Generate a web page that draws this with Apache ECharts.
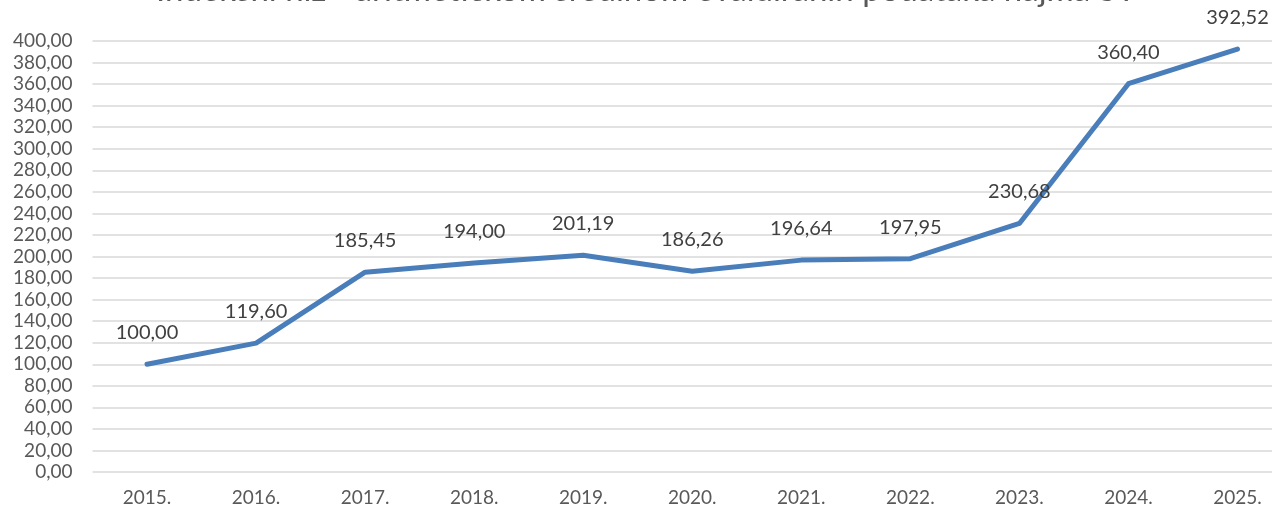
<!DOCTYPE html>
<html>
<head>
<meta charset="utf-8">
<script src="https://cdn.jsdelivr.net/npm/echarts@6/dist/echarts.min.js"></script>
<style>
  html, body { margin: 0; padding: 0; background: #fff; overflow: hidden; }
  /* the drawing is wider than the window; its right margin falls off-screen */
  #chart { width: 1292px; height: 511px; }
</style>
</head>
<body>
<div id="chart"></div>
<script>
// Years on the category axis
const years = ['2015.', '2016.', '2017.', '2018.', '2019.', '2020.', '2021.', '2022.', '2023.', '2024.', '2025.'];
// Index values per year
const indexValues = [100.00, 119.60, 185.45, 194.00, 201.19, 186.26, 196.64, 197.95, 230.68, 360.40, 392.52];
// Value axis range
const yMin = 0;
const yMax = 400;
const yStep = 20;

const chartTitle = 'Indeksni niz - aritmetičkom sredinom evaluiranih podataka najma ST';

const fmt = v => v.toFixed(2).replace('.', ',');

const chart = echarts.init(document.getElementById('chart'));
chart.setOption({
  backgroundColor: '#ffffff',
  animation: false,
  textStyle: { fontFamily: 'Lato, "Open Sans", sans-serif' },
  graphic: [{
    type: 'text',
    left: 'center',
    top: -26,
    style: {
      text: chartTitle,
      fontSize: 33,
      fill: '#595959',
      fontFamily: 'Lato, "Open Sans", sans-serif'
    }
  }],
  grid: { left: 92.5, right: 0, top: 41, bottom: 39, containLabel: false },
  xAxis: {
    type: 'category',
    data: years,
    boundaryGap: true,
    axisLine: { show: false },
    axisTick: { show: false },
    axisLabel: { color: '#595959', fontSize: 19, margin: 16 }
  },
  yAxis: {
    type: 'value',
    min: yMin,
    max: yMax,
    interval: yStep,
    axisLine: { show: false },
    axisTick: { show: false },
    axisLabel: { color: '#595959', fontSize: 19, margin: 20, formatter: v => fmt(v) },
    splitLine: { lineStyle: { color: '#d9d9d9', width: 1.5 } }
  },
  series: [{
    type: 'line',
    data: indexValues,
    symbol: 'circle',
    symbolSize: 3,
    showSymbol: true,
    itemStyle: { color: '#4a7ebb' },
    lineStyle: { color: '#4a7ebb', width: 5, cap: 'round', join: 'round' },
    label: {
      show: true,
      position: 'top',
      distance: 20,
      color: '#404040',
      fontSize: 20,
      formatter: p => fmt(p.value)
    },
    labelLayout: { hideOverlap: false }
  }]
});
</script>
</body>
</html>
